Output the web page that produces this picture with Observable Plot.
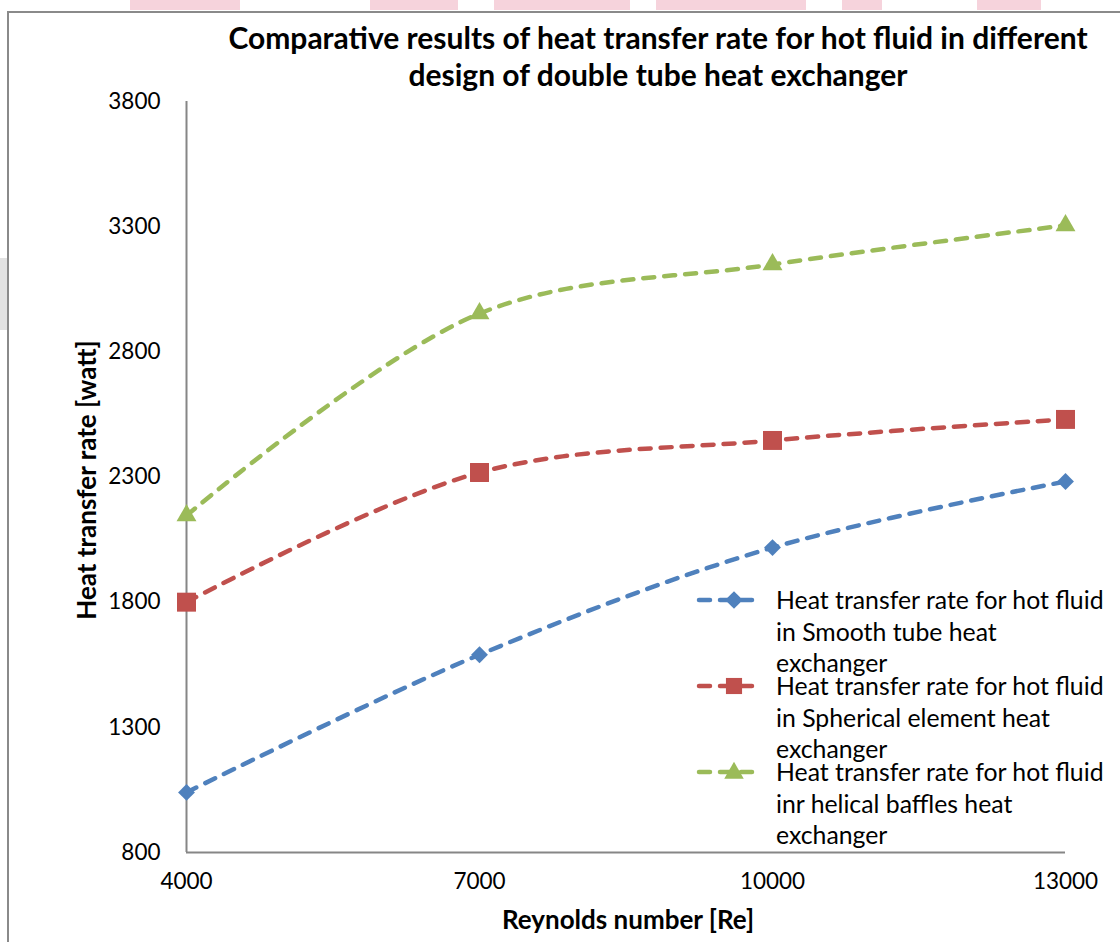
<!DOCTYPE html>
<html><head><meta charset="utf-8">
<script src="https://cdn.jsdelivr.net/npm/d3@7"></script>
<script src="https://cdn.jsdelivr.net/npm/@observablehq/plot@0.6"></script>
<style>
body{margin:0;background:#fff;font-family:Lato,sans-serif}
#wrap{position:relative;width:1120px;height:942px;overflow:hidden;background:#fff}
#frame{position:absolute;left:7px;top:11px;width:1200px;height:1000px;border-left:2px solid #8a8a8a;border-top:2px solid #8a8a8a}
.pink{position:absolute;top:0;height:10px;background:#f6d3dc}
#side{position:absolute;left:0;top:258px;width:7px;height:72px;background:#e2e2e2}
#title{position:absolute;left:158px;width:1000px;top:19px;text-align:center;font-weight:bold;font-size:30px;line-height:37px;color:#000}
#xlabel{position:absolute;left:428px;width:400px;top:904px;text-align:center;font-weight:bold;font-size:26px;line-height:30px;color:#000}
#ylabel{position:absolute;left:-114px;top:465px;width:400px;text-align:center;font-weight:bold;font-size:26px;line-height:30px;transform:rotate(-90deg);color:#000}
#chart{position:absolute;left:0;top:0}
.leg{position:absolute;left:693px;width:430px;height:100px}
.leg svg{position:absolute;left:0;top:0}
.leg .t{position:absolute;left:83px;top:-2px;font-size:24.8px;line-height:31.5px;color:#000;white-space:nowrap}
</style></head><body>
<div id="wrap">
<div class="pink" style="left:130px;width:110px"></div>
<div class="pink" style="left:370px;width:88px"></div>
<div class="pink" style="left:494px;width:136px"></div>
<div class="pink" style="left:656px;width:150px"></div>
<div class="pink" style="left:842px;width:40px"></div>
<div class="pink" style="left:977px;width:64px"></div>
<div id="frame"></div>
<div id="side"></div>
<div id="chart"></div>
<div id="title">Comparative results of heat transfer rate for hot fluid in different<br>design of double tube heat exchanger</div>
<div id="xlabel">Reynolds number [Re]</div>
<div id="ylabel">Heat transfer rate [watt]</div>
<div id="legend"></div>
</div>
<script>
// ---- data ----
const reynolds = [4000, 7000, 10000, 13000];
const smoothTube = [1040, 1590, 2018, 2282];
const sphericalElement = [1800, 2318, 2446, 2530];
const helicalBaffles = [2146, 2953, 3149, 3305];
const seriesNames = [
  "Heat transfer rate for hot fluid in Smooth tube heat exchanger",
  "Heat transfer rate for hot fluid in Spherical element heat exchanger",
  "Heat transfer rate for hot fluid inr helical baffles heat exchanger"
];
const legendLines = [
  ["Heat transfer rate for hot fluid", "in Smooth tube heat", "exchanger"],
  ["Heat transfer rate for hot fluid", "in Spherical element heat", "exchanger"],
  ["Heat transfer rate for hot fluid", "inr helical baffles heat", "exchanger"]
];
const xTicks = [4000, 7000, 10000, 13000];
const yTicks = [800, 1300, 1800, 2300, 2800, 3300, 3800];
const colors = ["#4F81BD", "#C0504D", "#9BBB59"];
const symbols = ["diamond2", "square", "triangle"];
const radii = [7.6, 10.7, 7.4];

const seriesValues = [smoothTube, sphericalElement, helicalBaffles];
const rows = seriesValues.flatMap((vals, i) =>
  vals.map((v, j) => ({series: seriesNames[i], idx: i, x: reynolds[j], y: v})));

const marks = [
  Plot.ruleX([4000], {stroke: "#868686", strokeWidth: 2}),
  Plot.ruleY([800], {stroke: "#868686", strokeWidth: 2}),
  Plot.axisX({ticks: xTicks, tickSize: 0, tickPadding: 21, fontSize: 22.5, label: null, tickFormat: d => String(d)}),
  Plot.axisY({ticks: yTicks, tickSize: 0, tickPadding: 26, fontSize: 22.5, label: null, tickFormat: d => String(d)})
];
seriesNames.forEach((name, i) => {
  const d = rows.filter(r => r.idx === i);
  marks.push(Plot.line(d, {x: "x", y: "y", stroke: colors[i], strokeWidth: 4.5,
    strokeDasharray: "11,10", strokeLinecap: "round", curve: "catmull-rom"}));
});
seriesNames.forEach((name, i) => {
  const d = rows.filter(r => r.idx === i);
  marks.push(Plot.dot(d, {x: "x", y: "y", fill: colors[i], stroke: "none", symbol: () => symbols[i], r: radii[i]}));
});

const chart = Plot.plot({
  width: 1120, height: 942,
  marginLeft: 186, marginRight: 55, marginTop: 101, marginBottom: 90,
  style: {background: "transparent", fontFamily: "Lato, sans-serif", color: "#000", overflow: "visible"},
  x: {domain: [4000, 13000]},
  y: {domain: [800, 3800]},
  symbol: {type: "identity"},
  marks
});
document.getElementById("chart").appendChild(chart);

// ---- legend ----
const legend = document.getElementById("legend");
const tops = [586, 672, 758];
const symMap = {diamond2: d3.symbolDiamond2, square: d3.symbolSquare, triangle: d3.symbolTriangle};
const legSize = [200, 260, 165];
seriesNames.forEach((name, i) => {
  const div = document.createElement("div");
  div.className = "leg";
  div.style.top = tops[i] + "px";
  const sym = d3.symbol(symMap[symbols[i]], legSize[i])();
  div.innerHTML = `<svg width="80" height="30">
    <line x1="6" x2="68" y1="14" y2="14" stroke="${colors[i]}" stroke-width="4.5" stroke-dasharray="11,10" stroke-linecap="round"/>
    <path d="${sym}" transform="translate(41,${symbols[i]==='triangle'?15:14})" fill="${colors[i]}"/>
  </svg><div class="t">${legendLines[i].join("<br>")}</div>`;
  legend.appendChild(div);
});
</script>
</body></html>
